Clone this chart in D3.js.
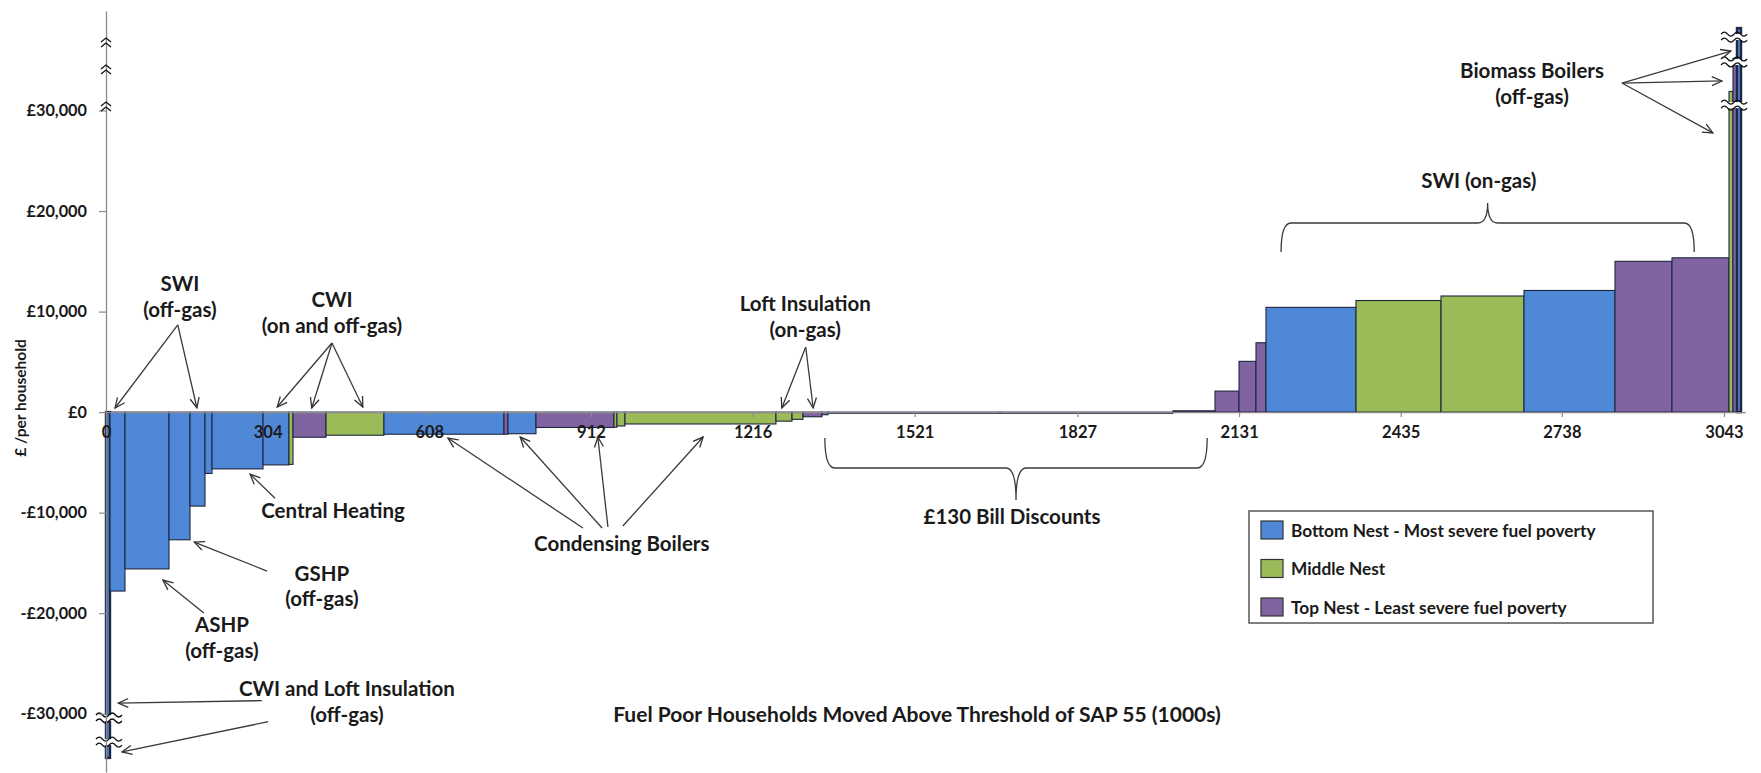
<!DOCTYPE html>
<html><head><meta charset="utf-8">
<script src="https://cdn.jsdelivr.net/npm/d3@7/dist/d3.min.js"></script>
<style>
html,body{margin:0;padding:0;background:#fff;}
svg{display:block;font-family:Lato,"Open Sans",sans-serif;font-weight:700;}
</style></head><body>
<svg id="chart" width="1761" height="773"></svg>
<script>
// ---------- data ----------
const nestNames = ["Bottom Nest - Most severe fuel poverty", "Middle Nest", "Top Nest - Least severe fuel poverty"];
const nestColors = ["#4f88d6", "#9bbb59", "#8064a2"];
// widths in thousands of households moved above threshold
const barWidths = [7.5, 28.2, 82.8, 39.5, 28.2, 13.2, 95.9, 48.9, 7.5, 62.1, 109.0, 225.7, 7.5, 52.7, 146.7, 5.6, 15.1, 283.9, 30.2, 20.6, 35.8, 11.3,
                   323.5, 325.3, 79.0,
                   45.2, 31.9, 18.8, 169.3, 159.9, 156.1, 171.1, 107.2, 107.2, 7.5, 7.5, 7.6];
// cost per household (£)
const barCosts = [-34400, -17800, -15600, -12700, -9350, -6100, -5650, -5250, -5200, -2500, -2300, -2200, -2200, -2150, -1530, -1500, -1380, -1180, -900, -720, -460, -260,
                  -120, -120, 130,
                  2090, 5050, 6900, 10420, 11100, 11550, 12100, 15000, 15350, 31900, 35200, 38200];
const barNests = [0, 0, 0, 0, 0, 0, 0, 0, 1, 2, 1, 0, 2, 0, 2, 1, 1, 1, 1, 1, 2, 2,
                  0, 1, 2,
                  2, 2, 2, 0, 1, 1, 0, 2, 2, 1, 2, 0];
const xTickValues = [0, 304, 608, 912, 1216, 1521, 1827, 2131, 2435, 2738, 3043];
const yTickValues = [-30000, -20000, -10000, 0, 10000, 20000, 30000];

// ---------- annotations (data coordinates) ----------
const noteTexts = [
  {lines: ["SWI", "(off-gas)"], x: 139, y: 12840},
  {lines: ["CWI", "(on and off-gas)"], x: 425, y: 11250},
  {lines: ["Central Heating"], x: 427, y: -9740},
  {lines: ["GSHP", "(off-gas)"], x: 406, y: -16000},
  {lines: ["ASHP", "(off-gas)"], x: 218, y: -21090},
  {lines: ["CWI and Loft Insulation", "(off-gas)"], x: 453, y: -27450},
  {lines: ["Condensing Boilers"], x: 970, y: -13020},
  {lines: ["Loft Insulation", "(on-gas)"], x: 1315, y: 10850},
  {lines: ["£130 Bill Discounts"], x: 1704, y: -10380},
  {lines: ["SWI (on-gas)"], x: 2582, y: 23090},
  {lines: ["Biomass Boilers", "(off-gas)"], x: 2682, y: 34030}
];
const noteArrows = [
  [135, 8670, 17, 410], [135, 8670, 171, 410],
  [425, 6870, 322, 510], [425, 6870, 387, 410], [425, 6870, 483, 510],
  [318, -8560, 271, -6170],
  [303, -15810, 166, -12940],
  [184, -19990, 107, -16710],
  [293, -28700, 23, -28950], [305, -30800, 30, -33800],
  [897, -11530, 643, -2580], [933, -11530, 779, -2480], [944, -11430, 925, -2480], [972, -11330, 1123, -2480],
  [1316, 6480, 1271, 410], [1316, 6480, 1330, 410],
  [2851, 32735, 3056, 35920], [2851, 32735, 3039, 32940], [2851, 32735, 3022, 27770]
];
// braces: x1, x2, end value, mid value, tip value
const braces = [
  [1352, 2071, -2580, -5560, -8740],
  [2210, 2987, 15930, 18810, 20800]
];
const axisBreakValues = [36710, 34020, 30340];
const barBreaks = [[5.6, -30430], [5.6, -32820], [3062, 37310], [3062, 34830], [3062, 30540]];

// ---------- scales ----------
const svg = d3.select("#chart");
const x = d3.scaleLinear().domain([0, 3083]).range([106, 106 + 3083 * 0.53171]);
const y = d3.scaleLinear().domain([-35800, 39900]).range([772, 11]);

const starts = d3.cumsum([0].concat(barWidths));
const bars = barWidths.map((w, i) => ({x0: starts[i], x1: starts[i] + w, v: barCosts[i], n: barNests[i]}));

// ---------- bars ----------
svg.append("g").selectAll("rect").data(bars).join("rect")
  .attr("x", d => x(d.x0))
  .attr("width", d => Math.max(0.5, x(d.x1) - x(d.x0)))
  .attr("y", d => Math.min(y(0), y(d.v)))
  .attr("height", d => Math.abs(y(d.v) - y(0)))
  .attr("fill", d => nestColors[d.n])
  .attr("stroke", "#1f2640")
  .attr("stroke-width", d => (d.n === 0 && x(d.x1) - x(d.x0) < 5) ? 2.4 : 1.1);

// ---------- bar breaks ----------
const wave = "m-13,0 q3.25,-4 6.5,0 t6.5,0 t6.5,0 t6.5,0";
const bb = svg.append("g");
barBreaks.forEach(([bx, bv]) => {
  const cx = x(bx), cy = y(bv);
  bb.append("rect").attr("x", cx - 13).attr("y", cy - 3).attr("width", 26).attr("height", 6).attr("fill", "#fff");
  bb.append("path").attr("d", `M${cx},${cy - 3}` + wave).attr("fill", "none").attr("stroke", "#111").attr("stroke-width", 1.3);
  bb.append("path").attr("d", `M${cx},${cy + 3}` + wave).attr("fill", "none").attr("stroke", "#111").attr("stroke-width", 1.3);
});

// ---------- axes ----------
const fmtY = v => (v < 0 ? "-" : "") + "£" + d3.format(",")(Math.abs(v));
const gy = svg.append("g").attr("transform", `translate(${x(0)},0)`)
  .call(d3.axisLeft(y).tickValues(yTickValues).tickFormat(fmtY).tickSize(7).tickSizeOuter(0).tickPadding(12));
gy.select(".domain").attr("stroke", "#8a8a8a").attr("stroke-width", 1.3);
gy.selectAll(".tick line").attr("stroke", "#8a8a8a").attr("stroke-width", 1.2);
gy.selectAll(".tick text").attr("font-size", 16.3).attr("font-weight", 700).attr("fill", "#1a1a1a").attr("font-family", "Lato");

const gx = svg.append("g").attr("transform", `translate(0,${y(0)})`)
  .call(d3.axisBottom(x).tickValues(xTickValues).tickFormat(d3.format("d")).tickSize(5).tickSizeOuter(0).tickPadding(9));
gx.select(".domain").attr("stroke", "#8a8a8a").attr("stroke-width", 1.3);
gx.selectAll(".tick line").attr("stroke", "#8a8a8a").attr("stroke-width", 1.2);
gx.selectAll(".tick text").attr("font-size", 16.5).attr("font-weight", 700).attr("fill", "#1a1a1a").attr("font-family", "Lato");

// y-axis break chevrons
axisBreakValues.forEach(v => {
  svg.append("path").attr("d", `M${x(0) - 5},${y(v) - 1} l5,-4 l5,4 M${x(0) - 5},${y(v) + 4} l5,-4 l5,4`)
    .attr("fill", "none").attr("stroke", "#111").attr("stroke-width", 1.3);
});

// axis titles
svg.append("text").attr("transform", "translate(20,398) rotate(-90)").attr("text-anchor", "middle")
  .attr("dominant-baseline", "central").attr("font-size", 15.5).attr("fill", "#1a1a1a").text("£ /per household");
svg.append("text").attr("x", 917).attr("y", 713).attr("text-anchor", "middle").attr("dominant-baseline", "central")
  .attr("font-size", 21).attr("fill", "#1a1a1a").text("Fuel Poor Households Moved Above Threshold of SAP 55 (1000s)");

// ---------- annotations ----------
const defs = svg.append("defs");
defs.append("marker").attr("id", "ah").attr("viewBox", "0 0 12 12").attr("refX", 11).attr("refY", 6)
  .attr("markerWidth", 12).attr("markerHeight", 12).attr("markerUnits", "userSpaceOnUse").attr("orient", "auto")
  .append("path").attr("d", "M1,1.5 L11,6 L1,10.5").attr("fill", "none").attr("stroke", "#333").attr("stroke-width", 1.3);

svg.append("g").selectAll("line").data(noteArrows).join("line")
  .attr("x1", d => x(d[0])).attr("y1", d => y(d[1]))
  .attr("x2", d => x(d[2])).attr("y2", d => y(d[3]))
  .attr("stroke", "#3a3a3a").attr("stroke-width", 1.3).attr("marker-end", "url(#ah)");

braces.forEach(([a, b, ve, vm, vt]) => {
  const x1 = x(a), x2 = x(b), xm = (x1 + x2) / 2, ye = y(ve), ym = y(vm), yt = y(vt);
  const r = 10;
  const d = `M${x1},${ye} Q${x1},${ym} ${x1 + r},${ym} L${xm - r},${ym} Q${xm},${ym} ${xm},${yt} Q${xm},${ym} ${xm + r},${ym} L${x2 - r},${ym} Q${x2},${ym} ${x2},${ye}`;
  svg.append("path").attr("d", d).attr("fill", "none").attr("stroke", "#3a3a3a").attr("stroke-width", 1.3);
});

const nt = svg.append("g").attr("font-size", 20.5).attr("fill", "#1a1a1a").attr("text-anchor", "middle");
noteTexts.forEach(n => {
  n.lines.forEach((l, i) => {
    nt.append("text").attr("x", x(n.x)).attr("y", y(n.y) + i * 25.5).attr("dominant-baseline", "central").text(l);
  });
});

// ---------- legend ----------
const lg = svg.append("g").attr("transform", "translate(1249,511)");
lg.append("rect").attr("width", 404).attr("height", 112).attr("fill", "#fff").attr("stroke", "#555").attr("stroke-width", 1.5);
nestNames.forEach((name, i) => {
  const row = lg.append("g").attr("transform", `translate(12,${19 + i * 38.5})`);
  row.append("rect").attr("x", 0).attr("y", -9).attr("width", 22).attr("height", 18)
    .attr("fill", nestColors[i]).attr("stroke", "#333").attr("stroke-width", 1.2);
  row.append("text").attr("x", 30).attr("y", 0).attr("dominant-baseline", "central")
    .attr("font-size", 17.3).attr("fill", "#1a1a1a").text(name);
});
</script>
</body></html>
